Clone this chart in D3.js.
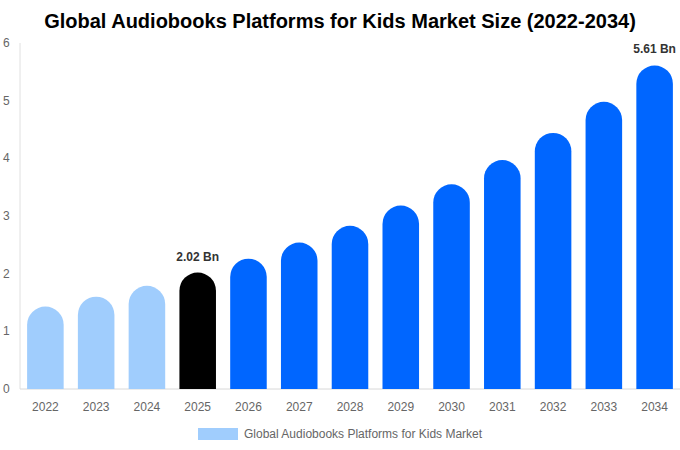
<!DOCTYPE html>
<html>
<head>
<meta charset="utf-8">
<script src="https://cdn.jsdelivr.net/npm/d3@7"></script>
<style>
  body { margin: 0; background: #fff; font-family: "Liberation Sans", Arial, sans-serif; }
</style>
</head>
<body>
<div id="chart"></div>
<script>
const years = ["2022", "2023", "2024", "2025", "2026", "2027", "2028", "2029", "2030", "2031", "2032", "2033", "2034"];
const values = [1.43, 1.60, 1.79, 2.02, 2.26, 2.54, 2.83, 3.18, 3.55, 3.97, 4.44, 4.98, 5.61];
const yTicks = [0, 1, 2, 3, 4, 5, 6];
const labelledYears = ["2025", "2034"];
const seriesName = "Global Audiobooks Platforms for Kids Market";

const width = 680, height = 450;
const margin = {top: 43, right: 0, bottom: 61, left: 20};

const svg = d3.select("#chart").append("svg")
    .attr("width", width)
    .attr("height", height);

svg.append("text")
    .attr("x", width / 2)
    .attr("y", 28)
    .attr("text-anchor", "middle")
    .attr("font-size", 20)
    .attr("font-weight", "bold")
    .attr("fill", "#000")
    .text("Global Audiobooks Platforms for Kids Market Size (2022-2034)");

const x = d3.scaleBand()
    .domain(years)
    .range([margin.left, width - margin.right])
    .paddingInner(0.28)
    .paddingOuter(0.14);

const y = d3.scaleLinear()
    .domain([0, 6])
    .range([height - margin.bottom, margin.top]);

// axis lines
svg.append("line")
    .attr("x1", margin.left).attr("x2", margin.left)
    .attr("y1", y(6)).attr("y2", y(0))
    .attr("stroke", "#e0e0e0");
svg.append("line")
    .attr("x1", margin.left).attr("x2", width)
    .attr("y1", y(0)).attr("y2", y(0))
    .attr("stroke", "#d8d8d8");

// y tick labels
svg.append("g").selectAll("text")
    .data(yTicks)
    .enter().append("text")
    .attr("x", 3)
    .attr("y", d => y(d) + 4)
    .attr("font-size", 12)
    .attr("fill", "#666")
    .text(d => d);

function barColor(yr) {
    if (+yr < 2025) return "#a0cdfd";
    if (+yr === 2025) return "#000000";
    return "#0066ff";
}

function roundedTop(x0, w, yTop, yBase) {
    const r = w / 2;
    return `M${x0},${yBase} V${yTop + r} A${r},${r} 0 0 1 ${x0 + w},${yTop + r} V${yBase} Z`;
}

const data = years.map((yr, i) => ({year: yr, value: values[i]}));

svg.append("g").selectAll("path")
    .data(data)
    .enter().append("path")
    .attr("d", d => roundedTop(x(d.year), x.bandwidth(), y(d.value), y(0)))
    .attr("fill", d => barColor(d.year));

// value labels
svg.append("g").selectAll("text")
    .data(data.filter(d => labelledYears.includes(d.year)))
    .enter().append("text")
    .attr("x", d => x(d.year) + x.bandwidth() / 2)
    .attr("y", d => y(d.value) - 12)
    .attr("text-anchor", "middle")
    .attr("font-size", 12)
    .attr("font-weight", "bold")
    .attr("fill", "#333")
    .text(d => d.value.toFixed(2) + " Bn");

// x tick labels
svg.append("g").selectAll("text")
    .data(years)
    .enter().append("text")
    .attr("x", d => x(d) + x.bandwidth() / 2)
    .attr("y", y(0) + 22)
    .attr("text-anchor", "middle")
    .attr("font-size", 12)
    .attr("fill", "#666")
    .text(d => d);

// legend
const legend = svg.append("g").attr("transform", "translate(198,428)");
legend.append("rect")
    .attr("width", 40).attr("height", 12)
    .attr("fill", "#a0cdfd");
legend.append("text")
    .attr("x", 46).attr("y", 10)
    .attr("font-size", 12)
    .attr("fill", "#666")
    .text(seriesName);
</script>
</body>
</html>
